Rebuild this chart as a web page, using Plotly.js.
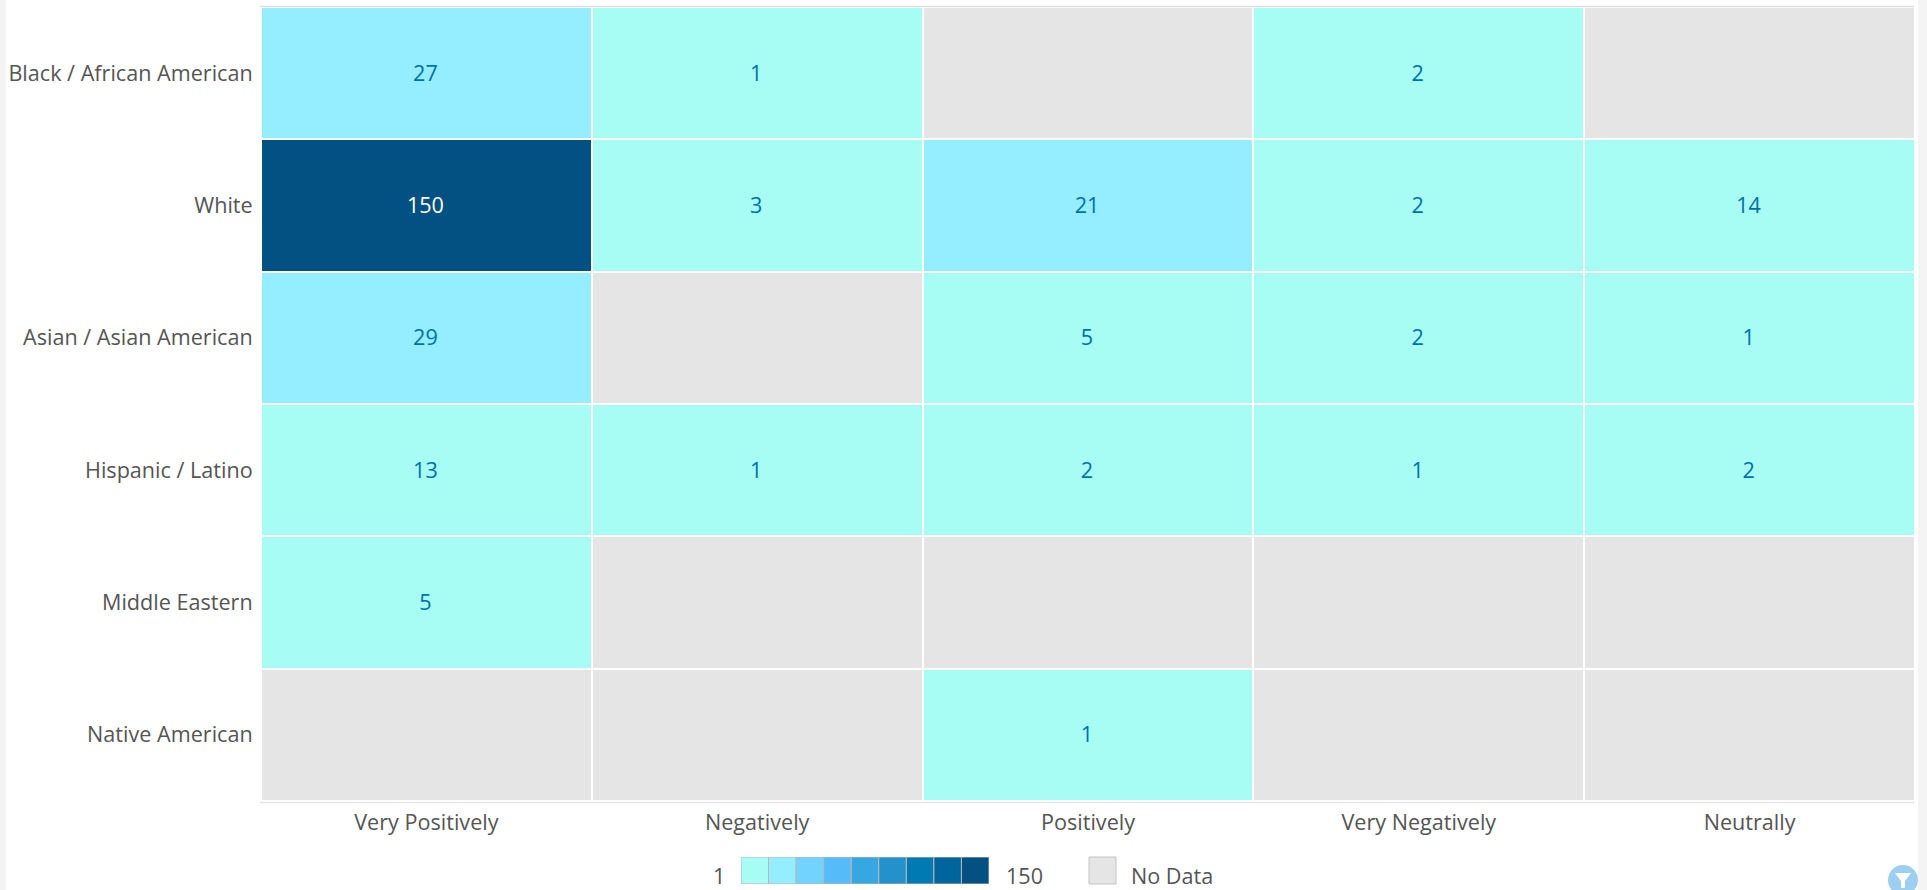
<!DOCTYPE html>
<html><head><meta charset="utf-8">
<script src="https://cdn.plot.ly/plotly-3.0.1.min.js"></script>
<style>html,body{margin:0;padding:0;background:#f4f4f4;overflow:hidden;height:890px}
#c{position:absolute;left:6px;top:0;width:1912px;height:890px;background:#fff}</style>
</head><body><div id="c"></div>
<script>
const responses = ['Very Positively','Negatively','Positively','Very Negatively','Neutrally'];
const groups = ['Black / African American','White','Asian / Asian American','Hispanic / Latino','Middle Eastern','Native American'];
const counts = [
  [27,1,null,2,null],
  [150,3,21,2,14],
  [29,null,5,2,1],
  [13,1,2,1,2],
  [5,null,null,null,null],
  [null,null,1,null,null]
];
const binColors = ['#a7fcf3','#94eeff','#70d4ff','#56bcf9','#36a7e0','#2391cb','#007ab3','#00659c','#035082'];
const zMin = 1, zMax = 150;
const noDataColor = '#e5e5e5';
const W = 1912, H = 890, OX = 6;
const FS = 21.6;
const fx = p => (p - OX) / W, fy = p => 1 - p / H;

const scale = [];
binColors.forEach((c,i)=>{scale.push([i/binColors.length,c]);scale.push([(i+1)/binColors.length,c]);});

const textX=[],textY=[],textV=[],textC=[];
counts.forEach((r,j)=>r.forEach((v,i)=>{ if(v!==null){
  textX.push(responses[i]);textY.push(groups[j]);textV.push(String(v));
  textC.push((v-zMin)/(zMax-zMin) > 0.5 ? '#ffffff' : '#0071a9');
}}));

const traces = [
 {type:'heatmap',x:responses,y:groups,z:counts.map(r=>r.map(()=>0)),zmin:0,zmax:1,
  colorscale:[[0,noDataColor],[1,noDataColor]],showscale:false,xgap:2,ygap:2,hoverinfo:'skip'},
 {type:'heatmap',x:responses,y:groups,z:counts,zmin:zMin,zmax:zMax,colorscale:scale,
  showscale:false,xgap:2,ygap:2,hoverongaps:false},
 {type:'scatter',mode:'text',xaxis:'x3',yaxis:'y3',x:textX,y:textY,text:textV,textposition:'middle center',
  textfont:{family:'"Open Sans",sans-serif',size:FS,color:textC},hoverinfo:'skip',showlegend:false}
];

const shapes = [
 {type:'line',xref:'paper',yref:'paper',x0:fx(260),x1:fx(1914),y0:fy(6.5),y1:fy(6.5),line:{color:'#dddddd',width:1.5}},
 {type:'line',xref:'paper',yref:'paper',x0:fx(260),x1:fx(1914),y0:fy(802.5),y1:fy(802.5),line:{color:'#e6e6e6',width:1.5}}
];
binColors.forEach((c,i)=>shapes.push({type:'rect',xref:'x2',yref:'y2',x0:i,x1:i+1,y0:0,y1:1,fillcolor:c,line:{color:'#b8b8b8',width:1}}));
// No Data swatch
shapes.push({type:'rect',xref:'paper',yref:'paper',x0:fx(1089),x1:fx(1116),y0:fy(884),y1:fy(857),fillcolor:noDataColor,line:{color:'#c4c4c4',width:1}});
// filter button
shapes.push({type:'circle',xref:'paper',yref:'paper',x0:fx(1888),x1:fx(1918),y0:fy(895),y1:fy(865),fillcolor:'#9ccff2',line:{width:0}});
const fp=[[1895,873],[1911,873],[1905,881],[1905,888],[1901,888],[1901,881]];
shapes.push({type:'path',xref:'paper',yref:'paper',path:fp.map((p,i)=>(i?'L':'M')+fx(p[0])+','+fy(p[1])).join(' ')+' Z',fillcolor:'#ffffff',line:{width:0}});

const legFont={family:'"Open Sans",sans-serif',size:FS,color:'#555555'};
const ann=(t,px,anchor)=>({text:t,xref:'paper',yref:'paper',x:fx(px),y:fy(875),xanchor:anchor,yanchor:'middle',showarrow:false,font:legFont});

const layout = {
 width:W,height:H,margin:{l:0,r:0,t:0,b:0,pad:0},paper_bgcolor:'#ffffff',plot_bgcolor:'rgba(0,0,0,0)',showlegend:false,
 font:{family:'"Open Sans",sans-serif',size:FS,color:'#555555'},
 xaxis:{type:'category',domain:[fx(261),fx(1915)],range:[-0.5,4.5],categoryorder:'array',categoryarray:responses,showgrid:false,zeroline:false,showline:false,ticks:'outside',ticklen:2,tickcolor:'rgba(0,0,0,0)',tickfont:{size:FS,color:'#555555'},fixedrange:true},
 yaxis:{type:'category',domain:[fy(801),fy(7)],range:[5.5,-0.5],categoryorder:'array',categoryarray:groups,showgrid:false,zeroline:false,showline:false,ticks:'outside',ticklen:3,tickcolor:'rgba(0,0,0,0)',tickfont:{size:FS,color:'#555555'},fixedrange:true},
 xaxis2:{domain:[fx(741),fx(989)],range:[0,9],visible:false,anchor:'y2',fixedrange:true},
 yaxis2:{domain:[fy(884),fy(857)],range:[0,1],visible:false,anchor:'x2',fixedrange:true},
 xaxis3:{type:'category',domain:[fx(260),fx(1914)],range:[-0.5,4.5],categoryorder:'array',categoryarray:responses,visible:false,anchor:'y3',fixedrange:true},
 yaxis3:{type:'category',domain:[fy(803),fy(9)],range:[5.5,-0.5],categoryorder:'array',categoryarray:groups,visible:false,anchor:'x3',fixedrange:true},
 shapes:shapes,
 annotations:[ann('1',719,'center'),ann('150',1024,'center'),ann('No Data',1129,'left')]
};
Plotly.newPlot('c',traces,layout,{displayModeBar:false,responsive:false});
</script></body></html>
